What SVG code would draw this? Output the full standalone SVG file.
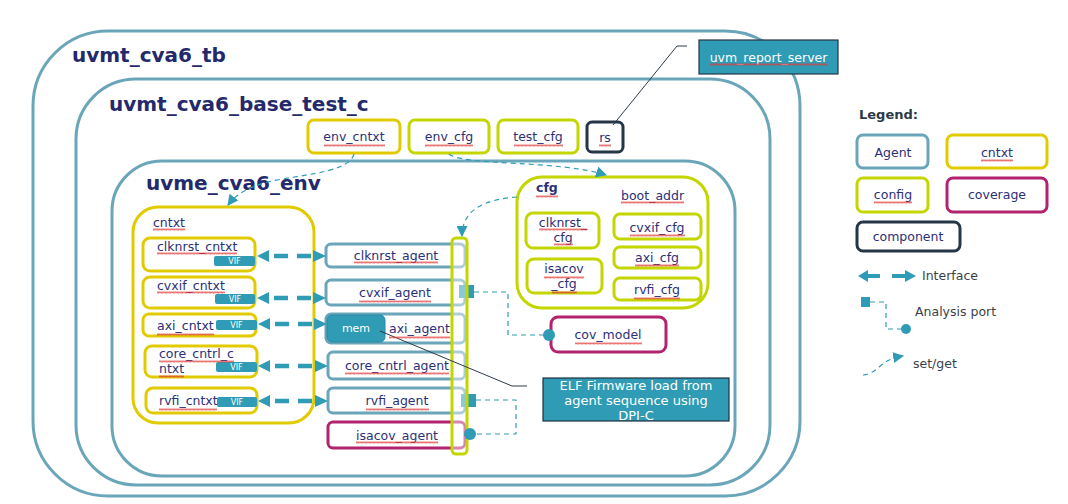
<svg xmlns="http://www.w3.org/2000/svg" width="1068" height="504" viewBox="0 0 1068 504">
<style>
text{font-family:"DejaVu Sans","Liberation Sans",sans-serif;fill:#2C3078}
.title{font-weight:bold;font-size:20px;fill:#23296B}
.lbl{font-size:12.5px}
.c{text-anchor:middle}
.cont{fill:none;stroke:#6AA5BA;stroke-width:3}
.agent{fill:#fff;stroke:#6AA5BA;stroke-width:3}
.yel{fill:#fff;stroke:#E1CB00;stroke-width:3}
.lime{fill:#fff;stroke:#C4D600;stroke-width:3}
.mag{fill:#fff;stroke:#B2236F;stroke-width:3}
.dark{fill:#fff;stroke:#253646;stroke-width:3}
.vif{fill:#2F9BB4}
.viftxt{font-size:8px;fill:#fff;text-anchor:middle}
.teal{fill:#2F9BB4}
.setget{fill:none;stroke:#2F9BB4;stroke-width:1.2;stroke-dasharray:5 4}
.ap{fill:none;stroke:#2F9BB4;stroke-width:1.2;stroke-dasharray:5 4}
.ifl{stroke:#2F9BB4;stroke-width:4.5;stroke-dasharray:14 9}
.leg{font-size:12.5px;fill:#3A3F4A}
.sq{fill:url(#squig)}
</style>
<defs>
<marker id="sg" viewBox="0 0 10 10" refX="9" refY="5" markerWidth="11" markerHeight="11" markerUnits="userSpaceOnUse" orient="auto">
<path d="M0,0 L10,5 L0,10 z" fill="#2F9BB4"/>
</marker>
<pattern id="squig" x="0" y="0" width="4" height="3" patternUnits="userSpaceOnUse">
<path d="M0,2.5 L1,0.5 L2,2.5 L3,0.5 L4,2.5" fill="none" stroke="#E03A3A" stroke-width="0.7"/>
</pattern>
</defs>
<rect width="1068" height="504" fill="#fff"/>

<g id="uvmt_cva6_tb">
<rect class="cont" x="33" y="31" width="767" height="465" rx="75"/>
<text class="title" x="72" y="62">uvmt_cva6_tb</text>
</g>
<g id="uvmt_cva6_base_test_c">
<rect class="cont" x="76" y="79" width="694" height="406" rx="60"/>
<text class="title" x="109" y="111">uvmt_cva6_base_test_c</text>
</g>
<g id="uvme_cva6_env">
<rect class="cont" x="112" y="161" width="623" height="315" rx="50"/>
<text class="title" x="146" y="190">uvme_cva6_env</text>
</g>

<g id="env_cntxt"><rect class="yel" x="308" y="120" width="92" height="33" rx="6"/><text class="lbl c" x="354" y="141">env_cntxt</text></g>
<g id="env_cfg"><rect class="lime" x="409" y="120" width="80" height="33" rx="6"/><text class="lbl c" x="449" y="141">env_cfg</text></g>
<g id="test_cfg"><rect class="lime" x="498" y="120" width="80" height="33" rx="6"/><text class="lbl c" x="538" y="141">test_cfg</text></g>
<g id="rs"><rect class="dark" x="587" y="122" width="36" height="30" rx="5"/><text class="lbl c" x="605" y="142">rs</text></g>
<g id="uvm_report_server"><rect x="699" y="40" width="139" height="34" fill="#2F9BB4" stroke="#253646" stroke-width="1.2"/><text class="lbl c" x="768.5" y="62" style="fill:#fff">uvm_report_server</text></g>

<g id="cntxt">
<rect class="yel" x="133" y="207" width="181" height="216" rx="25"/>
<text class="lbl" x="153" y="227">cntxt</text>
</g>
<g id="clknrst_cntxt"><rect class="yel" x="143" y="238" width="112" height="33" rx="7"/><text class="lbl" x="157" y="251">clknrst_cntxt</text><rect class="vif" x="214" y="256" width="41" height="10" rx="2"/><text class="viftxt" x="234.5" y="264">VIF</text></g>
<g id="cvxif_cntxt"><rect class="yel" x="143" y="277" width="112" height="31" rx="7"/><text class="lbl" x="157" y="290">cvxif_cntxt</text><rect class="vif" x="215" y="294" width="40" height="10" rx="2"/><text class="viftxt" x="235" y="302">VIF</text></g>
<g id="axi_cntxt"><rect class="yel" x="143" y="314" width="113" height="22" rx="6"/><text class="lbl" x="157" y="330">axi_cntxt</text><rect class="vif" x="216" y="320" width="41" height="10" rx="2"/><text class="viftxt" x="236.5" y="328">VIF</text></g>
<g id="core_cntrl_cntxt"><rect class="yel" x="145" y="346" width="112" height="31" rx="7"/><text class="lbl" x="159" y="358">core_cntrl_c</text><text class="lbl" x="159" y="373">ntxt</text><rect class="vif" x="216" y="362" width="41" height="10" rx="2"/><text class="viftxt" x="236.5" y="370">VIF</text></g>
<g id="rvfi_cntxt"><rect class="yel" x="146" y="388" width="111" height="25" rx="7"/><text class="lbl" x="159" y="405">rvfi_cntxt</text><rect class="vif" x="217" y="397" width="40" height="10" rx="2"/><text class="viftxt" x="237" y="405">VIF</text></g>

<g id="clknrst_agent"><rect class="agent" x="326" y="244" width="139" height="23" rx="5"/><text class="lbl c" x="396" y="260">clknrst_agent</text></g>
<g id="cvxif_agent"><rect class="agent" x="326" y="280" width="139" height="25" rx="5"/><text class="lbl c" x="395" y="297">cvxif_agent</text></g>
<g id="axi_agent"><rect class="agent" x="326" y="314" width="139" height="29" rx="5"/><text class="lbl" x="389" y="333">axi_agent</text></g>
<g id="mem"><rect x="327" y="315" width="58" height="27" rx="5" fill="#2F9BB4" stroke="#2A8AA2" stroke-width="1"/><text x="356" y="332" style="fill:#fff;font-size:11px" text-anchor="middle">mem</text></g>
<g id="core_cntrl_agent"><rect class="agent" x="328" y="352" width="137" height="27" rx="5"/><text class="lbl c" x="397" y="370">core_cntrl_agent</text></g>
<g id="rvfi_agent"><rect class="agent" x="328" y="388" width="137" height="25" rx="5"/><text class="lbl c" x="397" y="405">rvfi_agent</text></g>
<g id="isacov_agent"><rect class="mag" x="328" y="422" width="137" height="26" rx="5"/><text class="lbl c" x="397" y="440">isacov_agent</text></g>

<g id="ports_under">
<rect class="teal" x="459" y="285" width="15" height="13"/>
<rect class="teal" x="461" y="394" width="15" height="13"/>
</g>
<g id="agent_cfg_bar"><rect x="452" y="238" width="15" height="216" rx="4" fill="#fff" fill-opacity="0.45" stroke="#C4D600" stroke-width="3"/></g>

<g id="cfg">
<rect class="lime" x="517" y="177" width="191" height="131" rx="25"/>
<text class="lbl" x="536" y="192" style="font-weight:bold">cfg</text>
<text class="lbl" x="621" y="200">boot_addr</text>
</g>
<g id="clknrst_cfg"><rect class="lime" x="526" y="213" width="73" height="35" rx="7"/><text class="lbl c" x="563" y="227">clknrst_</text><text class="lbl c" x="563" y="242">cfg</text></g>
<g id="isacov_cfg"><rect class="lime" x="527" y="259" width="75" height="34" rx="7"/><text class="lbl c" x="564" y="273">isacov</text><text class="lbl c" x="564" y="288">_cfg</text></g>
<g id="cvxif_cfg"><rect class="lime" x="614" y="214" width="87" height="25" rx="6"/><text class="lbl c" x="657" y="232">cvxif_cfg</text></g>
<g id="axi_cfg"><rect class="lime" x="614" y="247" width="87" height="21" rx="6"/><text class="lbl c" x="657" y="262">axi_cfg</text></g>
<g id="rvfi_cfg"><rect class="lime" x="614" y="278" width="87" height="22" rx="6"/><text class="lbl c" x="657" y="294">rvfi_cfg</text></g>

<g id="cov_model"><rect class="mag" x="551" y="317" width="115" height="35" rx="7"/><text class="lbl c" x="608" y="339">cov_model</text></g>

<g id="elf_note">
<rect x="543" y="378" width="186" height="43" fill="#2F9BB4" stroke="#1E3040" stroke-width="1.2"/>
<text x="636" y="390" style="fill:#fff;font-size:13px" text-anchor="middle">ELF Firmware load from</text>
<text x="636" y="405" style="fill:#fff;font-size:13px" text-anchor="middle">agent sequence using</text>
<text x="636" y="420" style="fill:#fff;font-size:13px" text-anchor="middle">DPI-C</text>
</g>

<g id="connectors">
<g id="interfaces" fill="#2F9BB4">
<line class="ifl" x1="274" y1="256" x2="313" y2="256"/><polygon points="257,256 269,250 269,262"/><polygon points="326,256 313,250 313,262"/>
<line class="ifl" x1="274" y1="298" x2="313" y2="298"/><polygon points="257,298 269,292 269,304"/><polygon points="326,298 313,292 313,304"/>
<line class="ifl" x1="275" y1="324" x2="314" y2="324"/><polygon points="258,324 270,318 270,330"/><polygon points="327,324 314,318 314,330"/>
<line class="ifl" x1="275" y1="366" x2="315" y2="366"/><polygon points="258,366 270,360 270,372"/><polygon points="328,366 315,360 315,372"/>
<line class="ifl" x1="275" y1="401" x2="315" y2="401"/><polygon points="258,401 270,395 270,407"/><polygon points="328,401 315,395 315,407"/>
</g>
<path class="setget" d="M354,154 C348,176 285,174 255,186 C242,191 234,197 228,205" marker-end="url(#sg)"/>
<path class="setget" d="M449,154 C462,166 560,160 606,175" marker-end="url(#sg)"/>
<path class="setget" d="M517,197 C488,199 462,208 462,236" marker-end="url(#sg)"/>
<path class="ap" d="M474,292 H508 V335 H548"/>
<circle class="teal" cx="549" cy="335" r="6"/>
<path class="ap" d="M476,400 H516 V434 H470"/>
<circle class="teal" cx="470" cy="434" r="6"/>
<path d="M380,331 L512,386 H527" fill="none" stroke="#2B3A4A" stroke-width="1"/>
<path d="M613,125 L677,46 H687" fill="none" stroke="#2B3A4A" stroke-width="1"/>
</g>

<g id="legend">
<text x="859" y="119" style="font-weight:bold;font-size:13px;fill:#2A3A4A">Legend:</text>
<g id="leg_agent"><rect class="agent" x="857" y="135" width="71" height="33" rx="6"/><text class="lbl c" x="893" y="157">Agent</text></g>
<g id="leg_cntxt"><rect class="yel" x="947" y="135" width="100" height="33" rx="6"/><text class="lbl c" x="997" y="157">cntxt</text></g>
<g id="leg_config"><rect class="lime" x="857" y="178" width="71" height="34" rx="6"/><text class="lbl c" x="893" y="199">config</text></g>
<g id="leg_coverage"><rect class="mag" x="947" y="178" width="100" height="34" rx="6"/><text class="lbl c" x="997" y="199">coverage</text></g>
<g id="leg_component"><rect class="dark" x="857" y="222" width="103" height="29" rx="6"/><text class="lbl c" x="908" y="241">component</text></g>
<g id="leg_interface">
<polygon class="teal" points="858,276 868,270 868,282"/><rect class="teal" x="868" y="274" width="12" height="4"/>
<rect class="teal" x="892" y="274" width="13" height="4"/><polygon class="teal" points="916,276 905,270 905,282"/>
<text class="leg" x="922" y="280">Interface</text>
</g>
<g id="leg_ap">
<rect class="teal" x="861" y="297" width="9" height="10"/>
<path class="ap" d="M870,302 H886 V329 H902"/>
<circle class="teal" cx="906" cy="329" r="5"/>
<text class="leg" x="915" y="316">Analysis port</text>
</g>
<g id="leg_setget">
<path class="setget" d="M863,375 C880,373 878,360 903,356" marker-end="url(#sg)"/>
<text class="leg" x="913" y="368">set/get</text>
</g>
</g>

<g id="spellcheck_marks">
<rect class="sq" x="324" y="144" width="61" height="3"/>
<rect class="sq" x="425" y="144" width="48" height="3"/>
<rect class="sq" x="514" y="144" width="49" height="3"/>
<rect class="sq" x="599" y="144" width="12" height="3"/>
<rect class="sq" x="710" y="63" width="118" height="3"/>
<rect class="sq" x="153" y="228" width="32" height="3"/>
<rect class="sq" x="157" y="252" width="80" height="3"/>
<rect class="sq" x="157" y="291" width="68" height="3"/>
<rect class="sq" x="157" y="333" width="57" height="3"/>
<rect class="sq" x="159" y="360" width="75" height="3"/>
<rect class="sq" x="159" y="375" width="25" height="3"/>
<rect class="sq" x="159" y="408" width="58" height="3"/>
<rect class="sq" x="354" y="261" width="84" height="3"/>
<rect class="sq" x="359" y="300" width="72" height="3"/>
<rect class="sq" x="389" y="336" width="61" height="3"/>
<rect class="sq" x="345" y="372" width="104" height="3"/>
<rect class="sq" x="366" y="408" width="63" height="3"/>
<rect class="sq" x="356" y="441" width="82" height="3"/>
<rect class="sq" x="536" y="195" width="22" height="3"/>
<rect class="sq" x="621" y="201" width="63" height="3"/>
<rect class="sq" x="539" y="228" width="48" height="3"/>
<rect class="sq" x="554" y="243" width="19" height="3"/>
<rect class="sq" x="544" y="276" width="40" height="3"/>
<rect class="sq" x="552" y="291" width="25" height="3"/>
<rect class="sq" x="630" y="234" width="55" height="3"/>
<rect class="sq" x="635" y="264" width="44" height="3"/>
<rect class="sq" x="634" y="297" width="46" height="3"/>
<rect class="sq" x="575" y="342" width="67" height="3"/>
<rect class="sq" x="981" y="159" width="32" height="3"/>
<rect class="sq" x="874" y="201" width="38" height="3"/>
</g>
</svg>
